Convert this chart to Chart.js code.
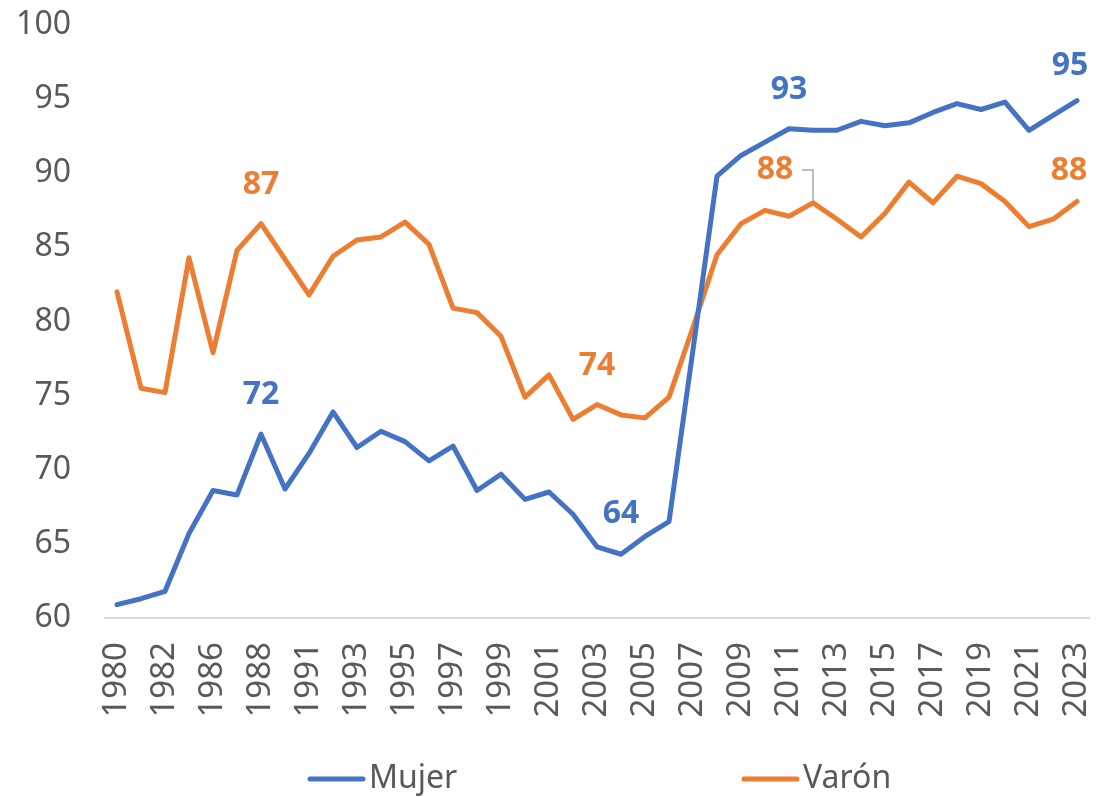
<!DOCTYPE html>
<html>
<head>
<meta charset="utf-8">
<script src="https://cdn.jsdelivr.net/npm/chart.js@4/dist/chart.umd.min.js"></script>
<style>
  body { margin: 0; background: #fff; }
  #chart { display: block; }
</style>
</head>
<body>
<canvas id="chart" width="1096" height="797"></canvas>
<script>
// years on the category axis (one year missing here and there in the source)
const years = ['1980', '1981', '1982', '1984', '1986', '1987', '1988', '1989',
  '1991', '1992', '1993', '1994', '1995', '1996', '1997', '1998', '1999', '2000',
  '2001', '2002', '2003', '2004', '2005', '2006', '2007', '2008', '2009', '2010',
  '2011', '2012', '2013', '2014', '2015', '2016', '2017', '2018', '2019', '2020',
  '2021', '2022', '2023'];

const mujer = [60.9, 61.3, 61.8, 65.7, 68.6, 68.3, 72.4, 68.7, 71.1, 73.9, 71.5,
  72.6, 71.9, 70.6, 71.6, 68.6, 69.7, 68.0, 68.5, 67.0, 64.8, 64.3, 65.5, 66.5,
  78.1, 89.8, 91.2, 92.1, 93.0, 92.9, 92.9, 93.5, 93.2, 93.4, 94.1, 94.7, 94.3,
  94.8, 92.9, 93.9, 94.9];

const varon = [82.0, 75.5, 75.2, 84.3, 77.9, 84.8, 86.6, 84.2, 81.8, 84.4, 85.5,
  85.7, 86.7, 85.2, 80.9, 80.6, 79.0, 74.9, 76.4, 73.4, 74.4, 73.7, 73.5, 74.9,
  79.6, 84.5, 86.6, 87.5, 87.1, 88.0, 86.9, 85.7, 87.3, 89.4, 88.0, 89.8, 89.3,
  88.1, 86.4, 86.9, 88.1];

// which points get a value label: [dataset, year]
const labelledPoints = [
  [1, '1988'], [0, '1988'], [1, '2003'], [0, '2004'],
  [0, '2011'], [0, '2023'], [1, '2012'], [1, '2023']
];

const FONT = '"Noto Sans", "Open Sans", sans-serif';
const GREY = '#595959';

// label offsets from the point (style only)
const labelOffsets = {
  '1-1988': [0, -39], '0-1988': [0, -39], '1-2003': [0, -39], '0-2004': [0, -40],
  '0-2011': [0, -39], '0-2023': [-7, -35], '1-2012': [-38, -33, true], '1-2023': [-8, -31]
};

const valueLabels = {
  id: 'valueLabels',
  afterDatasetsDraw(chart) {
    const ctx = chart.ctx;
    ctx.save();
    ctx.font = 'bold 32px ' + FONT;
    ctx.textAlign = 'center';
    ctx.textBaseline = 'middle';
    labelledPoints.forEach(([ds, year]) => {
      const i = years.indexOf(year);
      const pt = chart.getDatasetMeta(ds).data[i];
      const value = chart.data.datasets[ds].data[i];
      const [dx, dy, leader] = labelOffsets[ds + '-' + year];
      const x = pt.x + dx, y = pt.y + dy;
      if (leader) {
        ctx.strokeStyle = '#a6a6a6';
        ctx.lineWidth = 1.5;
        ctx.beginPath();
        ctx.moveTo(x + 27, y);
        ctx.lineTo(pt.x, y);
        ctx.lineTo(pt.x, pt.y - 2);
        ctx.stroke();
      }
      ctx.fillStyle = chart.data.datasets[ds].borderColor;
      ctx.fillText(String(Math.round(value)), x, y);
    });
    ctx.restore();
  }
};

// legend drawn like the spreadsheet one: wide slots, line sample then text
const sheetLegend = {
  id: 'sheetLegend',
  afterDraw(chart) {
    const ctx = chart.ctx;
    const starts = [308, 742];
    const y = 779;
    ctx.save();
    ctx.font = '32px ' + FONT;
    ctx.textBaseline = 'middle';
    chart.data.datasets.forEach((d, k) => {
      ctx.strokeStyle = d.borderColor;
      ctx.lineWidth = 5;
      ctx.lineCap = 'round';
      ctx.beginPath();
      ctx.moveTo(starts[k] + 2, y);
      ctx.lineTo(starts[k] + 55, y);
      ctx.stroke();
      ctx.fillStyle = GREY;
      ctx.fillText(d.label, starts[k] + 61, y);
    });
    ctx.restore();
  }
};

new Chart(document.getElementById('chart'), {
  type: 'line',
  data: {
    labels: years,
    datasets: [
      { label: 'Mujer', data: mujer, borderColor: '#4472C4', borderWidth: 5 },
      { label: 'Varón', data: varon, borderColor: '#ED7D31', borderWidth: 5 }
    ]
  },
  options: {
    responsive: false,
    animation: false,
    devicePixelRatio: 1,
    layout: { padding: { top: 25, right: 7, left: 0, bottom: 45 } },
    elements: {
      point: { radius: 0 },
      line: { tension: 0, borderJoinStyle: 'round', borderCapStyle: 'round' }
    },
    plugins: {
      legend: { display: false },
      tooltip: { enabled: false }
    },
    scales: {
      x: {
        offset: true,
        grid: { display: false, drawTicks: false },
        border: { color: '#d9d9d9', width: 2 },
        ticks: {
          autoSkip: false,
          minRotation: 90,
          maxRotation: 90,
          padding: 24,
          color: GREY,
          font: { family: FONT, size: 33 },
          callback(value, index) {
            return index % 2 === 0 ? this.getLabelForValue(value) : '';
          }
        },
        afterFit(scale) {
          scale.height = 134;
          scale.paddingLeft = 0;
          scale.paddingRight = 0;
        }
      },
      y: {
        min: 60,
        max: 100,
        grid: { display: false, drawTicks: false },
        border: { display: false },
        ticks: {
          stepSize: 5,
          padding: 34,
          color: GREY,
          font: { family: FONT, size: 32 }
        },
        afterFit(scale) {
          scale.width = 105;
          scale.paddingTop = 0;
          scale.paddingBottom = 0;
        }
      }
    }
  },
  plugins: [valueLabels, sheetLegend]
});
</script>
</body>
</html>
